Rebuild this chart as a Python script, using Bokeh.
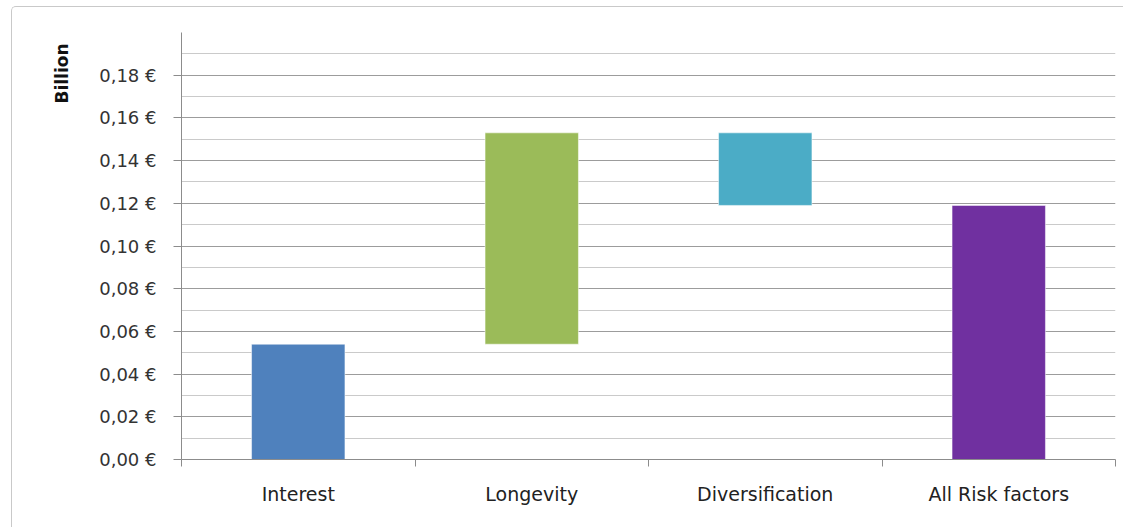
import math
from bokeh.plotting import figure
from bokeh.models import (Range1d, FixedTicker, CustomJSTickFormatter,
                          Title, ColumnDataSource)
from bokeh.embed import file_html
from bokeh.resources import INLINE

# ---- data ----
categories = ["Interest", "Longevity", "Diversification", "All Risk factors"]
changes = [0.054, 0.099, -0.034]          # step contributions (billion €)
bar_colors = ["#4f81bd", "#9bbb59", "#4bacc6", "#7030a0"]
y_ticks = [0.00, 0.02, 0.04, 0.06, 0.08, 0.10, 0.12, 0.14, 0.16, 0.18]
y_minor = [0.01, 0.03, 0.05, 0.07, 0.09, 0.11, 0.13, 0.15, 0.17, 0.19]
y_max = 0.20
y_title = "Billion"

# waterfall geometry from the data
bottoms, tops = [], []
running = 0.0
for c in changes:
    bottoms.append(min(running, running + c))
    tops.append(max(running, running + c))
    running += c
bottoms.append(0.0)
tops.append(running)

xs = [i + 0.5 for i in range(len(categories))]
bounds = list(range(len(categories) + 1))
src = ColumnDataSource(dict(x=xs, bottom=bottoms, top=tops, color=bar_colors, cat=categories))

AX = "#8c8c8c"
FONT = "DejaVu Sans"

p = figure(width=1112, height=521, output_backend="svg", toolbar_location=None,
           x_range=Range1d(0, len(categories)), y_range=Range1d(0, y_max),
           min_border_left=169, min_border_right=9, min_border_top=25, min_border_bottom=69,
           styles={"margin-left": "11px", "margin-top": "6px",
                   "border-top": "1px solid #c9c9c9", "border-left": "1px solid #c9c9c9",
                   "border-top-left-radius": "5px"})
p.outline_line_color = None
p.background_fill_color = "white"
p.border_fill_color = "white"

# y axis
yt = FixedTicker(ticks=y_ticks, minor_ticks=y_minor)
p.yaxis.ticker = yt
p.ygrid.ticker = yt
p.yaxis.formatter = CustomJSTickFormatter(code="return tick.toFixed(2).replace('.', ',') + ' \u20ac'")
p.yaxis.axis_line_color = AX
p.yaxis.major_tick_line_color = AX
p.yaxis.major_tick_out = 8
p.yaxis.major_tick_in = 0
p.yaxis.minor_tick_line_color = None
p.yaxis.major_label_text_font = FONT
p.yaxis.major_label_text_font_size = "18px"
p.yaxis.major_label_text_color = "#333333"
p.yaxis.major_label_standoff = 17

p.ygrid.grid_line_color = "#9c9c9c"
p.ygrid.minor_grid_line_color = "#cacaca"
p.xgrid.visible = False

# x axis: labels at category centres, tick marks at category boundaries
p.xaxis.ticker = FixedTicker(ticks=xs, minor_ticks=bounds)
p.xaxis.major_label_overrides = {x: c for x, c in zip(xs, categories)}
p.xaxis.axis_line_color = AX
p.xaxis.major_tick_line_color = None
p.xaxis.major_tick_out = 0
p.xaxis.major_tick_in = 0
p.xaxis.minor_tick_line_color = AX
p.xaxis.minor_tick_out = 7
p.xaxis.minor_tick_in = 0
p.xaxis.major_label_text_font = FONT
p.xaxis.major_label_text_font_size = "19px"
p.xaxis.major_label_text_color = "#222222"
p.xaxis.major_label_standoff = 16

p.vbar(x="x", width=0.4, bottom="bottom", top="top", fill_color="color",
       line_color="white", line_alpha=0.5, line_width=1, source=src)

# y title at the top of the left side
p.add_layout(Title(text=y_title, align="right", offset=11, standoff=49,
                   text_font=FONT, text_font_size="17px", text_font_style="bold",
                   text_color="#111111"), "left")

open("out.html", "w").write(file_html(p, INLINE))
